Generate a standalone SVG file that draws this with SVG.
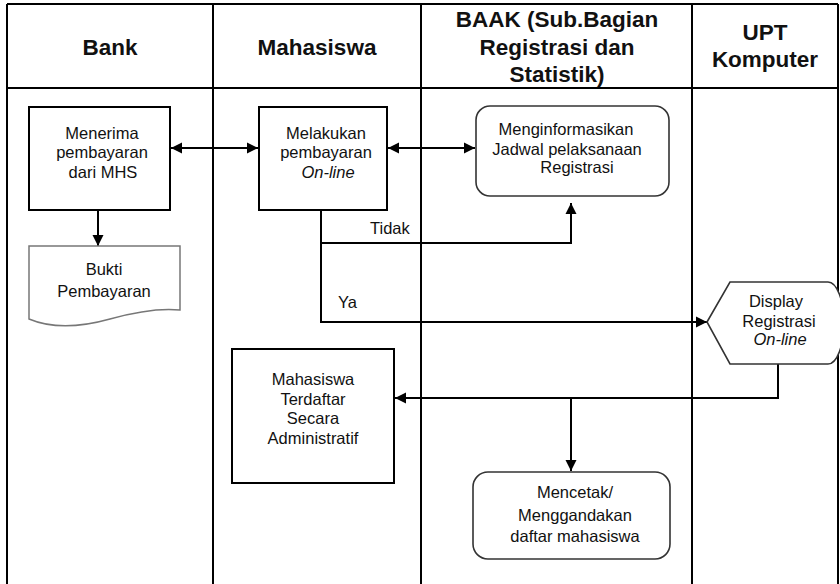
<svg xmlns="http://www.w3.org/2000/svg" width="840" height="584" viewBox="0 0 840 584">
<defs>
<style>
.lane{stroke:#000;stroke-width:2;fill:none}
.hd{font-family:"Liberation Sans",Arial,sans-serif;font-weight:bold;font-size:22.5px;fill:#111;text-anchor:middle}
.tx{font-family:"Liberation Sans",Arial,sans-serif;font-size:16.5px;fill:#111;text-anchor:middle}
.lbl{font-family:"Liberation Sans",Arial,sans-serif;font-size:16.5px;fill:#111}
.box{fill:#fff;stroke:#000;stroke-width:2}
.rnd{fill:#fff;stroke:#333;stroke-width:1.6}
.doc{fill:#fff;stroke:#777;stroke-width:1.5}
.con{fill:none;stroke:#000;stroke-width:2}
.it{font-style:italic}
</style>
<marker id="arr" markerUnits="userSpaceOnUse" viewBox="0 0 12 12" markerWidth="12" markerHeight="12" refX="11" refY="6" orient="auto-start-reverse">
<path d="M0,0.5 L11,6 L0,11.5 Z" fill="#000"/>
</marker>
</defs>
<rect width="840" height="584" fill="#fff"/>
<g id="lanes">
<path class="lane" d="M7,4 H838 M7,88 H838 M7,4 V584 M213,4 V584 M421,4 V584 M692,4 V584 M838,4 V584"/>
<text class="hd" x="110" y="55">Bank</text>
<text class="hd" x="317" y="55">Mahasiswa</text>
<text class="hd" x="557" y="27">BAAK (Sub.Bagian</text>
<text class="hd" x="557" y="55">Registrasi dan</text>
<text class="hd" x="557" y="82">Statistik)</text>
<text class="hd" x="765" y="40">UPT</text>
<text class="hd" x="765" y="67">Komputer</text>
</g>
<g id="connectors">
<path class="con" d="M171,148 H258" marker-start="url(#arr)" marker-end="url(#arr)"/>
<path class="con" d="M388,148 H475" marker-start="url(#arr)" marker-end="url(#arr)"/>
<path class="con" d="M98,210 V246" marker-end="url(#arr)"/>
<path class="con" d="M321,210 V243 H571 V203" marker-end="url(#arr)"/>
<path class="con" d="M321,243 V322 H707" marker-end="url(#arr)"/>
<path class="con" d="M778,364 V398 H395" marker-end="url(#arr)"/>
<path class="con" d="M571,398 V471" marker-end="url(#arr)"/>
<text class="lbl" x="370" y="234">Tidak</text>
<text class="lbl" x="338" y="308">Ya</text>
</g>
<g id="menerima">
<rect class="box" x="29" y="107" width="141" height="103"/>
<text class="tx" x="102" y="139">Menerima</text>
<text class="tx" x="102" y="158">pembayaran</text>
<text class="tx" x="103" y="178">dari MHS</text>
</g>
<g id="bukti">
<path class="doc" d="M29,246 H180 V310 C160,308 135,312 110,319 C85,326 55,330 29,319 Z"/>
<text class="tx" x="104" y="275">Bukti</text>
<text class="tx" x="104" y="297">Pembayaran</text>
</g>
<g id="melakukan">
<rect class="box" x="259" y="107" width="128" height="103"/>
<text class="tx" x="326" y="139">Melakukan</text>
<text class="tx" x="326" y="158">pembayaran</text>
<text class="tx it" x="328" y="178">On-line</text>
</g>
<g id="menginformasikan">
<rect class="rnd" x="476" y="106" width="193" height="90" rx="14"/>
<text class="tx" x="566" y="135">Menginformasikan</text>
<text class="tx" x="567" y="155">Jadwal pelaksanaan</text>
<text class="tx" x="577" y="173">Registrasi</text>
</g>
<g id="display">
<path class="rnd" d="M707,322 L730,282 H828 A16,41 0 0 1 828,364 H730 Z"/>
<text class="tx" x="776" y="307">Display</text>
<text class="tx" x="779" y="327">Registrasi</text>
<text class="tx it" x="780" y="345">On-line</text>
</g>
<g id="terdaftar">
<rect class="box" x="232" y="349" width="162" height="134"/>
<text class="tx" x="313" y="385">Mahasiswa</text>
<text class="tx" x="313" y="405">Terdaftar</text>
<text class="tx" x="313" y="424">Secara</text>
<text class="tx" x="313" y="444">Administratif</text>
</g>
<g id="mencetak">
<rect class="rnd" x="473" y="472" width="197" height="87" rx="15"/>
<text class="tx" x="575" y="498">Mencetak/</text>
<text class="tx" x="575" y="521">Menggandakan</text>
<text class="tx" x="575" y="542">daftar mahasiswa</text>
</g>
</svg>
